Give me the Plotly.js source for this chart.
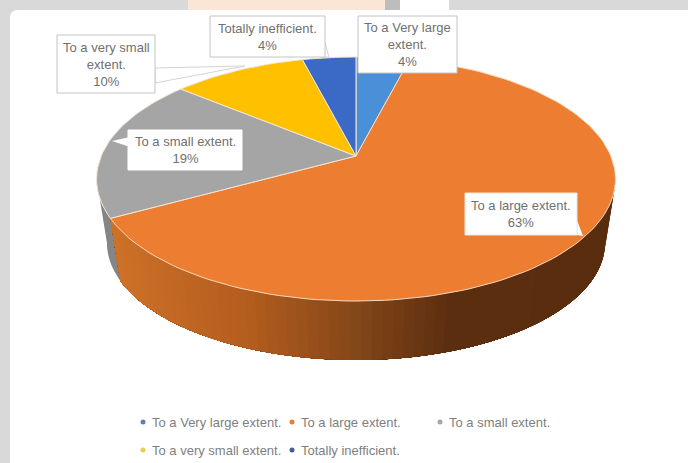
<!DOCTYPE html>
<html>
<head>
<meta charset="utf-8">
<script src="https://cdn.plot.ly/plotly-3.0.1.min.js"></script>
<style>html,body{margin:0;padding:0;background:#fff}#chart{width:688px;height:463px}</style>
</head>
<body>
<div id="chart"></div>
<script>
// Survey answers, clockwise from twelve o'clock
const categories = ['To a Very large extent.', 'To a large extent.', 'To a small extent.', 'To a very small extent.', 'Totally inefficient.'];
const percentages = [4, 63, 19, 10, 4];
const sliceColors = ['#4a90d8', '#ed7d31', '#a5a5a5', '#ffc000', '#3a69c6'];
const legendDotColors = ['#5b7fc0', '#ed7d31', '#a5a5a5', '#e8d040', '#44608f'];

// Projection of the tilted disc onto the page (pixel-based axes)
const disc = {cx: 356, cy: 156, rx: 254.8, ry: 117.7, tilt: 0.1885};
const base = {scale: 0.96, vanishY: 1775};
const DEG = Math.PI / 180;
const FONT = 'Liberation Sans, Arial, sans-serif';

function rim(angle) {
  const s = Math.sin(angle * DEG), c = Math.cos(angle * DEG), w = 1 + disc.tilt * c;
  return [disc.cx + disc.rx * s / w, disc.cy - disc.ry * c / w];
}
function rimBase(angle) {
  const p = rim(angle);
  return [disc.cx + base.scale * (p[0] - disc.cx), base.vanishY + base.scale * (p[1] - base.vanishY)];
}
function arc(fn, a0, a1, n) {
  const pts = [];
  for (let i = 0; i <= n; i++) pts.push(fn(a0 + (a1 - a0) * i / n));
  return pts;
}
function polygon(pts, fill, line, width) {
  return {
    type: 'scatter', mode: line ? 'lines' : 'none', fill: 'toself', fillcolor: fill,
    x: pts.map(p => p[0]), y: pts.map(p => p[1]),
    line: {color: line || fill, width: width || 0},
    hoverinfo: 'skip', showlegend: false
  };
}

// Slice boundaries from the percentages
const total = percentages.reduce((a, b) => a + b, 0);
const starts = [];
let running = 0;
percentages.forEach(v => { starts.push(running / total * 360); running += v; });
const ends = starts.map((s, i) => s + percentages[i] / total * 360);

const traces = [];

// Side wall, grey part on the far left
const leftEdge = 360 - Math.acos(-disc.tilt) / DEG;
const rightEdge = Math.acos(-disc.tilt) / DEG;
traces.push(polygon(arc(rim, ends[1], leftEdge, 12).concat(arc(rimBase, leftEdge, ends[1], 12)), '#858585'));

// Side wall, orange part, shaded in narrow overlapping strips from right to left
const wallStops = [[116, [205, 112, 40]], [250, [178, 92, 30]], [360, [130, 70, 24]], [450, [92, 46, 16]], [620, [90, 45, 15]]];
function wallColor(x) {
  for (let i = 1; i < wallStops.length; i++) {
    if (x <= wallStops[i][0]) {
      const a = wallStops[i - 1], b = wallStops[i];
      const t = Math.max(0, (x - a[0]) / (b[0] - a[0]));
      const c = a[1].map((v, k) => Math.round(v + (b[1][k] - v) * t));
      return 'rgb(' + c.join(',') + ')';
    }
  }
  return 'rgb(90,45,15)';
}
const stripCount = 70;
for (let i = 0; i < stripCount; i++) {
  const a0 = rightEdge + (ends[1] - rightEdge) * i / stripCount;
  const mid = rightEdge + (ends[1] - rightEdge) * (i + 0.5) / stripCount;
  const pts = arc(rim, a0, ends[1], 40).concat(arc(rimBase, ends[1], a0, 40));
  traces.push(polygon(pts, wallColor(rim(mid)[0])));
}

// Top faces of the slices
percentages.forEach((v, i) => {
  const pts = [[disc.cx, disc.cy]].concat(arc(rim, starts[i], ends[i], Math.max(8, Math.round(v * 2)))).concat([[disc.cx, disc.cy]]);
  traces.push(polygon(pts, sliceColors[i], i === 1 ? '#fbd9bd' : '#f4e6d4', 1));
});

// Legend rows: coloured dot followed by the category name
const legendX = [143, 292, 440, 143, 292];
const legendY = [422, 422, 422, 450, 450];
const legendTextGap = 9;
categories.forEach((name, i) => {
  traces.push({
    type: 'scatter', mode: 'markers', x: [legendX[i]], y: [legendY[i]], name: name,
    marker: {color: legendDotColors[i], size: 5},
    hoverinfo: 'skip', showlegend: false, cliponaxis: false
  });
});

// Callout boxes [x0, y0, x1, y1] for each slice
const boxes = [[358, 16, 457, 73], [465, 193, 577, 235], [128, 130, 242, 170], [57, 35, 155, 93], [210, 16, 325, 57]];
const boxEdges = ['#c4c4c4', '#e6e6e6', '#ffffff', '#c4c4c4', '#c4c4c4'];
const wrapped = ['To a Very large<br>extent.', 'To a large extent.', 'To a small extent.', 'To a very small<br>extent.', 'Totally inefficient.'];

const annotations = categories.map((_, i) => ({
  x: (boxes[i][0] + boxes[i][2]) / 2, y: (boxes[i][1] + boxes[i][3]) / 2,
  xref: 'x', yref: 'y', showarrow: false, align: 'center',
  text: wrapped[i] + '<br>' + percentages[i] + '%',
  font: {family: FONT, size: 13, color: '#707070'}
})).concat(categories.map((name, i) => ({
  x: legendX[i] + legendTextGap, y: legendY[i], xref: 'x', yref: 'y',
  xanchor: 'left', yanchor: 'middle', showarrow: false, xshift: -2, text: name,
  font: {family: FONT, size: 13, color: '#808080'}
})));

const shapes = [
  // Page frame
  {type: 'rect', layer: 'below', x0: 0, x1: 688, y0: 0, y1: 463, fillcolor: '#d9d9d9', line: {width: 0}},
  {type: 'rect', layer: 'below', x0: 188, x1: 385, y0: 0, y1: 11, fillcolor: '#fbe6d6', line: {width: 0}},
  {type: 'rect', layer: 'below', x0: 385, x1: 400, y0: 0, y1: 11, fillcolor: '#bdbdbd', line: {width: 0}},
  {type: 'rect', layer: 'below', x0: 400, x1: 449, y0: 0, y1: 11, fillcolor: '#ffffff', line: {width: 0}},
  {type: 'path', layer: 'below', path: 'M10 463 L10 18 Q10 10 18 10 L688 10 L688 463 Z', fillcolor: '#ffffff', line: {width: 0}},
  // Callout tails
  {type: 'path', path: 'M155 68 L245 66 L155 83 Z', fillcolor: '#ffffff', line: {color: '#d4d4d4', width: 1}},
  {type: 'path', path: 'M320 57 L329 57 L325 43 Z', fillcolor: '#ffffff', line: {color: '#d4d4d4', width: 1}},
  {type: 'path', path: 'M130 137 L112 141 L130 147 Z', fillcolor: '#ffffff', line: {width: 0}},
  {type: 'path', path: 'M575 215 L583 236 L570 234 Z', fillcolor: '#ffffff', line: {width: 0}}
].concat(boxes.map((b, i) => ({
  type: 'rect', x0: b[0], y0: b[1], x1: b[2], y1: b[3], fillcolor: '#ffffff',
  line: {color: boxEdges[i], width: 1}
})));

const hidden = {visible: false, fixedrange: true};
Plotly.newPlot('chart', traces, {
  width: 688, height: 463, margin: {l: 0, r: 0, t: 0, b: 0},
  paper_bgcolor: '#ffffff', plot_bgcolor: 'rgba(0,0,0,0)', showlegend: false,
  xaxis: Object.assign({range: [0, 688]}, hidden),
  yaxis: Object.assign({range: [463, 0]}, hidden),
  shapes: shapes, annotations: annotations
}, {displayModeBar: false, staticPlot: true});
</script>
</body>
</html>
